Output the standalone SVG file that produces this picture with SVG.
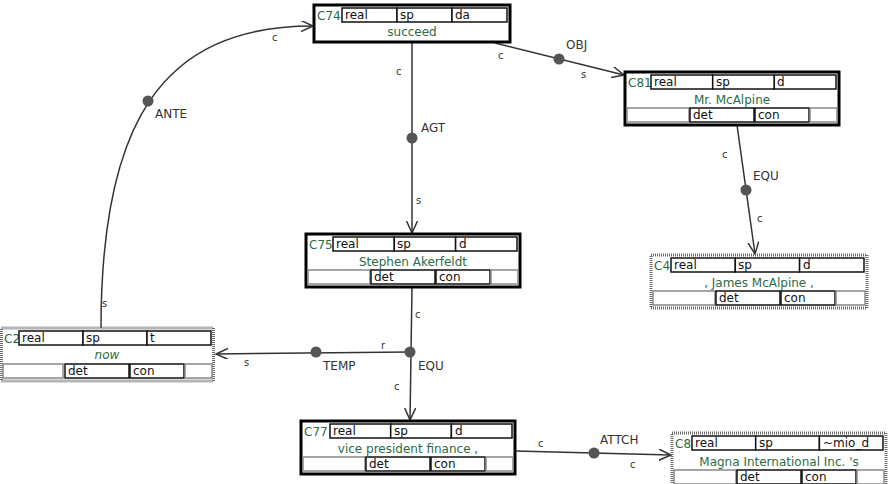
<svg xmlns="http://www.w3.org/2000/svg" width="890" height="484" viewBox="0 0 890 484">
<style>
text{font-family:"DejaVu Sans","Liberation Sans",sans-serif}
.ob{fill:#fff;stroke:#000;stroke-width:3}
.od{fill:#fff;stroke:#6a6a6a;stroke-width:3;stroke-dasharray:1 1}
.c{fill:#fff;stroke:#111;stroke-width:1.5}
.e{fill:#fff;stroke:#888;stroke-width:1.5}
.t{font-size:12px;fill:#111}
.id{font-size:12px;fill:#2d6b45}
.nm{font-size:12px;fill:#2d6b45;text-anchor:middle}
.ln{fill:none;stroke:#333;stroke-width:1.5;marker-end:url(#ar)}
.dot{fill:#555}
.rl{font-size:12px;fill:#333}
.rs{font-size:10px;fill:#333}
</style>
<defs>
<marker id="ar" markerUnits="userSpaceOnUse" markerWidth="14" markerHeight="13" refX="12" refY="5.5" orient="auto">
<path d="M0,0 L12,5.5 L0,11" fill="none" stroke="#333" stroke-width="1.5"/>
</marker>
</defs>

<g id="connectors">
<path class="ln" d="M101,328 C101,125 160,26 313,26"/>
<path class="ln" d="M495,43 L624,75"/>
<path class="ln" d="M412,42 L412,233"/>
<path class="ln" d="M737,125 L755,254"/>
<path class="ln" d="M412,287 L410,420"/>
<path class="ln" d="M410,352 L216,354"/>
<path class="ln" d="M515,451 L671,455"/>
<circle class="dot" cx="148" cy="101" r="5.5"/>
<circle class="dot" cx="559" cy="59" r="5.5"/>
<circle class="dot" cx="412" cy="138" r="5.5"/>
<circle class="dot" cx="746" cy="190" r="5.5"/>
<circle class="dot" cx="410" cy="352" r="5.5"/>
<circle class="dot" cx="316" cy="352" r="5.5"/>
<circle class="dot" cx="594" cy="453" r="5.5"/>
<text class="rl" x="155" y="118">ANTE</text>
<text class="rs" x="272" y="41">c</text>
<text class="rs" x="102" y="307">s</text>
<text class="rl" x="566" y="49">OBJ</text>
<text class="rs" x="498" y="59">c</text>
<text class="rs" x="581" y="78">s</text>
<text class="rl" x="421" y="132">AGT</text>
<text class="rs" x="396" y="75">c</text>
<text class="rs" x="416" y="204">s</text>
<text class="rl" x="753" y="180">EQU</text>
<text class="rs" x="722" y="158">c</text>
<text class="rs" x="757" y="222">c</text>
<text class="rl" x="418" y="370">EQU</text>
<text class="rs" x="415" y="318">c</text>
<text class="rs" x="394" y="390">c</text>
<text class="rl" x="323" y="370">TEMP</text>
<text class="rs" x="381" y="349">r</text>
<text class="rs" x="244" y="366">s</text>
<text class="rl" x="600" y="444">ATTCH</text>
<text class="rs" x="538" y="447">c</text>
<text class="rs" x="630" y="468">c</text>
</g>

<g id="C74">
<rect class="ob" x="314" y="5" width="196" height="37"/>
<text class="id" x="317" y="20">C74</text>
<rect class="c" x="342" y="8" width="55" height="14"/>
<rect class="c" x="397" y="8" width="55" height="14"/>
<rect class="c" x="452" y="8" width="55" height="14"/>
<text class="t" x="345" y="19">real</text>
<text class="t" x="400" y="19">sp</text>
<text class="t" x="455" y="19">da</text>
<text class="nm" x="412" y="36">succeed</text>
</g>

<g id="C81">
<rect class="ob" x="625" y="72" width="214" height="53"/>
<text class="id" x="628" y="87">C81</text>
<rect class="c" x="651" y="75" width="61.7" height="14"/>
<rect class="c" x="712.7" y="75" width="61.7" height="14"/>
<rect class="c" x="774.3" y="75" width="61.7" height="14"/>
<text class="t" x="654" y="86">real</text>
<text class="t" x="716" y="86">sp</text>
<text class="t" x="777" y="86">d</text>
<text class="nm" x="732" y="104">Mr. McAlpine</text>
<rect class="e" x="627" y="108" width="62" height="14"/>
<rect class="c" x="690" y="108" width="64" height="14"/>
<rect class="c" x="755" y="108" width="54" height="14"/>
<rect class="e" x="810" y="108" width="27" height="14"/>
<text class="t" x="693" y="119">det</text>
<text class="t" x="758" y="119">con</text>
</g>

<g id="C75">
<rect class="ob" x="306" y="234" width="214" height="53"/>
<text class="id" x="309" y="249">C75</text>
<rect class="c" x="333" y="237" width="61.3" height="14"/>
<rect class="c" x="394.3" y="237" width="61.3" height="14"/>
<rect class="c" x="455.6" y="237" width="61.4" height="14"/>
<text class="t" x="336" y="248">real</text>
<text class="t" x="397" y="248">sp</text>
<text class="t" x="459" y="248">d</text>
<text class="nm" x="413" y="266">Stephen Akerfeldt</text>
<rect class="e" x="308" y="270" width="62" height="14"/>
<rect class="c" x="371" y="270" width="64" height="14"/>
<rect class="c" x="436" y="270" width="54" height="14"/>
<rect class="e" x="491" y="270" width="27" height="14"/>
<text class="t" x="374" y="281">det</text>
<text class="t" x="439" y="281">con</text>
</g>

<g id="C4">
<rect class="od" x="651" y="255" width="216" height="53"/>
<text class="id" x="654" y="270">C4</text>
<rect class="c" x="671" y="258" width="64.3" height="14"/>
<rect class="c" x="735.3" y="258" width="64.3" height="14"/>
<rect class="c" x="799.6" y="258" width="64.4" height="14"/>
<text class="t" x="674" y="269">real</text>
<text class="t" x="738" y="269">sp</text>
<text class="t" x="803" y="269">d</text>
<text class="nm" x="759" y="287">, James McAlpine ,</text>
<rect class="e" x="653" y="291" width="62" height="14"/>
<rect class="c" x="716" y="291" width="64" height="14"/>
<rect class="c" x="781" y="291" width="54" height="14"/>
<rect class="e" x="836" y="291" width="29" height="14"/>
<text class="t" x="719" y="302">det</text>
<text class="t" x="784" y="302">con</text>
</g>

<g id="C2">
<rect class="od" x="1.5" y="328" width="212" height="53"/>
<text class="id" x="4" y="343">C2</text>
<rect class="c" x="19" y="331" width="64" height="14"/>
<rect class="c" x="83" y="331" width="64" height="14"/>
<rect class="c" x="147" y="331" width="64" height="14"/>
<text class="t" x="22" y="342">real</text>
<text class="t" x="86" y="342">sp</text>
<text class="t" x="150" y="342">t</text>
<text class="nm" x="107" y="359" font-style="italic">now</text>
<rect class="e" x="3" y="364" width="60" height="14"/>
<rect class="c" x="65" y="364" width="64" height="14"/>
<rect class="c" x="130" y="364" width="54" height="14"/>
<rect class="e" x="185" y="364" width="27" height="14"/>
<text class="t" x="68" y="375">det</text>
<text class="t" x="133" y="375">con</text>
</g>

<g id="C77">
<rect class="ob" x="301" y="421" width="214" height="53"/>
<text class="id" x="304" y="436">C77</text>
<rect class="c" x="330" y="424" width="60.7" height="14"/>
<rect class="c" x="390.7" y="424" width="60.7" height="14"/>
<rect class="c" x="451.4" y="424" width="60.6" height="14"/>
<text class="t" x="333" y="435">real</text>
<text class="t" x="394" y="435">sp</text>
<text class="t" x="455" y="435">d</text>
<text class="nm" x="408" y="453">vice president finance ,</text>
<rect class="e" x="303" y="457" width="62" height="14"/>
<rect class="c" x="366" y="457" width="64" height="14"/>
<rect class="c" x="431" y="457" width="54" height="14"/>
<rect class="e" x="486" y="457" width="27" height="14"/>
<text class="t" x="369" y="468">det</text>
<text class="t" x="434" y="468">con</text>
</g>

<g id="C8">
<rect class="od" x="672" y="433" width="214" height="53"/>
<text class="id" x="675" y="448">C8</text>
<rect class="c" x="692" y="436" width="63.7" height="14"/>
<rect class="c" x="755.7" y="436" width="63.7" height="14"/>
<rect class="c" x="819.4" y="436" width="63.6" height="14"/>
<text class="t" x="695" y="447">real</text>
<text class="t" x="759" y="447">sp</text>
<text class="t" x="823" y="447">~mio_d</text>
<text class="nm" x="779" y="466">Magna International Inc. 's</text>
<rect class="e" x="674" y="470" width="62" height="14"/>
<rect class="c" x="737" y="470" width="64" height="14"/>
<rect class="c" x="802" y="470" width="54" height="14"/>
<rect class="e" x="857" y="470" width="27" height="14"/>
<text class="t" x="740" y="481">det</text>
<text class="t" x="805" y="481">con</text>
</g>
</svg>
